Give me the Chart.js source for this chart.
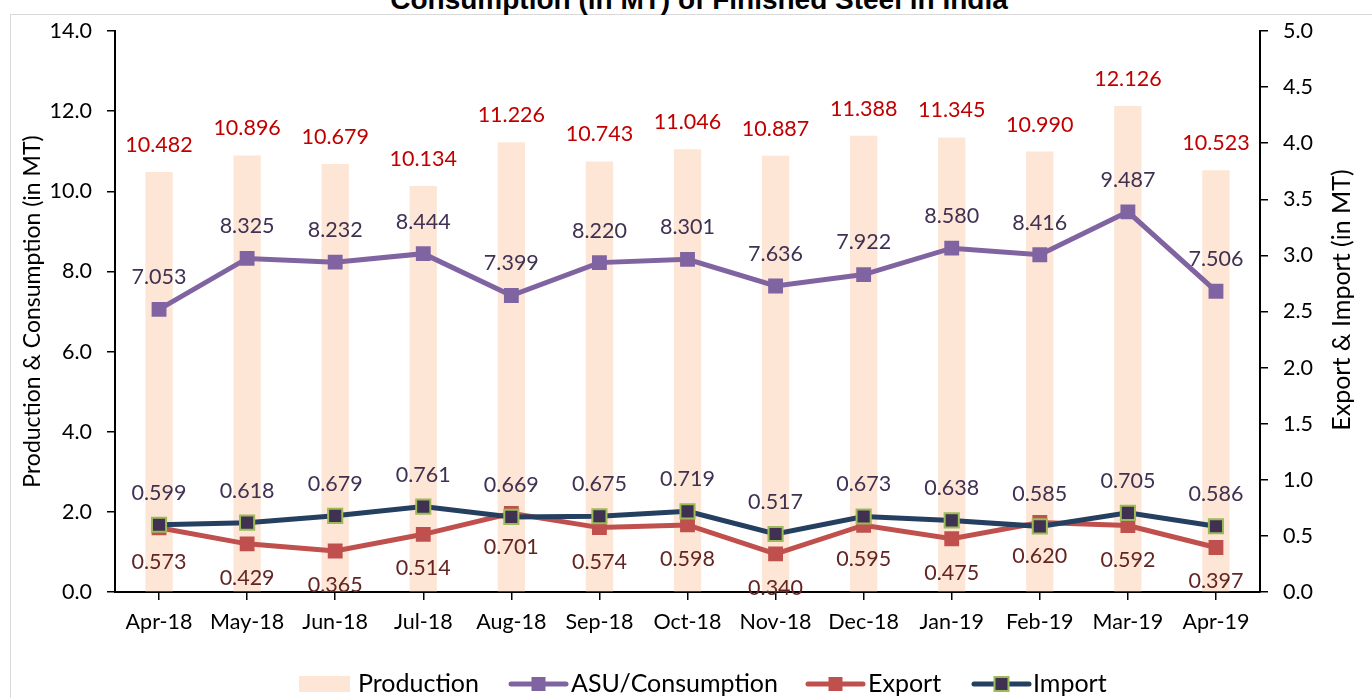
<!DOCTYPE html>
<html>
<head>
<meta charset="utf-8">
<script src="https://cdn.jsdelivr.net/npm/chart.js@4.4.1/dist/chart.umd.min.js"></script>
<style>
  html, body { margin: 0; padding: 0; background: #fff; overflow: hidden; }
  #wrap { position: relative; width: 1372px; height: 698px; overflow: hidden; }
  #frame { position: absolute; left: 10px; top: 14px; width: 1420px; height: 720px; border: 1px solid #d9d9d9; }
  #title { position: absolute; left: 13px; width: 1372px; top: -16px; line-height: 28px; text-align: center;
           font: bold 28px "Liberation Sans Narrow", "Arial Narrow", Arial, sans-serif; color: #000; white-space: nowrap; }
  canvas { position: absolute; left: 0; top: 0; }
</style>
</head>
<body>
<div id="wrap">
  <div id="frame"></div>
  <div id="title">Consumption (in MT) of Finished Steel in India</div>
  <canvas id="chart" width="1372" height="698"></canvas>
</div>
<script>
// Chart data
const months = ['Apr-18', 'May-18', 'Jun-18', 'Jul-18', 'Aug-18', 'Sep-18', 'Oct-18',
                'Nov-18', 'Dec-18', 'Jan-19', 'Feb-19', 'Mar-19', 'Apr-19'];
const production = [10.482, 10.896, 10.679, 10.134, 11.226, 10.743, 11.046, 10.887, 11.388, 11.345, 10.990, 12.126, 10.523];
const consumption = [7.053, 8.325, 8.232, 8.444, 7.399, 8.220, 8.301, 7.636, 7.922, 8.580, 8.416, 9.487, 7.506];
const exportVals = [0.573, 0.429, 0.365, 0.514, 0.701, 0.574, 0.598, 0.340, 0.595, 0.475, 0.620, 0.592, 0.397];
const importVals = [0.599, 0.618, 0.679, 0.761, 0.669, 0.675, 0.719, 0.517, 0.673, 0.638, 0.585, 0.705, 0.586];
const leftTicks = [0, 14, 2];    // min, max, step
const rightTicks = [0, 5, 0.5];

const FONT = 'Lato';
const C = {
  bar: '#fde6d6', barLabel: '#c00000',
  asu: '#8064a2', asuLabel: '#403152',
  exp: '#c0504d', expLabel: '#632523',
  imp: '#243f60', impMarker: '#403152', impBorder: '#9bbb59', impLabel: '#403152'
};

// value labels next to each mark
const valueLabels = {
  id: 'valueLabels',
  afterDatasetsDraw(chart) {
    const ctx = chart.ctx;
    chart.data.datasets.forEach((ds, i) => {
      const meta = chart.getDatasetMeta(i);
      ctx.save();
      ctx.font = '21.5px ' + FONT;
      ctx.fillStyle = ds.labelColor;
      ctx.textAlign = 'center';
      ctx.textBaseline = 'middle';
      meta.data.forEach((el, j) => {
        ctx.fillText(ds.data[j].toFixed(3), el.x, el.y + ds.labelShift);
      });
      ctx.restore();
    });
  }
};

// right axis title (reads bottom to top) and bottom legend
const extras = {
  id: 'extras',
  afterDraw(chart) {
    const ctx = chart.ctx;
    ctx.save();
    ctx.translate(1342, 300);
    ctx.rotate(-Math.PI / 2);
    ctx.font = '25px ' + FONT;
    ctx.fillStyle = '#000';
    ctx.textAlign = 'center';
    ctx.textBaseline = 'middle';
    ctx.fillText('Export & Import (in MT)', 0, 0);
    ctx.restore();

    const y = 684;
    ctx.save();
    ctx.font = '25px ' + FONT;
    ctx.textBaseline = 'middle';
    ctx.fillStyle = C.bar;
    ctx.fillRect(299, y - 8, 51, 16);
    ctx.fillStyle = '#000';
    ctx.fillText('Production', 358, y);

    const items = [
      { x0: 511, x1: 566, line: C.asu, fill: C.asu, border: C.asu, text: 'ASU/Consumption', tx: 571 },
      { x0: 808, x1: 863, line: C.exp, fill: C.exp, border: C.exp, text: 'Export', tx: 868 },
      { x0: 974, x1: 1029, line: C.imp, fill: C.impMarker, border: C.impBorder, text: 'Import', tx: 1033 }
    ];
    items.forEach(it => {
      ctx.strokeStyle = it.line;
      ctx.lineWidth = 5;
      ctx.lineCap = 'round';
      ctx.beginPath();
      ctx.moveTo(it.x0, y);
      ctx.lineTo(it.x1, y);
      ctx.stroke();
      const cx = (it.x0 + it.x1) / 2;
      ctx.fillStyle = it.fill;
      ctx.fillRect(cx - 7, y - 7, 14, 14);
      if (it.border !== it.fill) {
        ctx.strokeStyle = it.border;
        ctx.lineWidth = 2;
        ctx.strokeRect(cx - 7, y - 7, 14, 14);
      }
      ctx.fillStyle = '#000';
      ctx.fillText(it.text, it.tx, y);
    });
    ctx.restore();
  }
};

const tickFont = { family: FONT, size: 21.5 };
const axisGrid = { display: true, drawOnChartArea: false, drawTicks: true, tickLength: 8, color: '#000', lineWidth: 1.5 };
const axisBorder = { display: true, color: '#000', width: 2 };

new Chart(document.getElementById('chart'), {
  data: {
    labels: months,
    datasets: [
      {
        type: 'bar', label: 'Production', data: production, yAxisID: 'y',
        backgroundColor: C.bar, borderWidth: 0,
        barPercentage: 0.31, categoryPercentage: 1, order: 4,
        labelColor: C.barLabel, labelShift: -27
      },
      {
        type: 'line', label: 'ASU/Consumption', data: consumption, yAxisID: 'y',
        borderColor: C.asu, borderWidth: 5, pointStyle: 'rect', pointRadius: 10.5,
        pointBackgroundColor: C.asu, pointBorderColor: C.asu, pointBorderWidth: 0, order: 3,
        labelColor: C.asuLabel, labelShift: -32
      },
      {
        type: 'line', label: 'Export', data: exportVals, yAxisID: 'y1',
        borderColor: C.exp, borderWidth: 5, pointStyle: 'rect', pointRadius: 10.5,
        pointBackgroundColor: C.exp, pointBorderColor: C.exp, pointBorderWidth: 0, order: 2,
        labelColor: C.expLabel, labelShift: 34
      },
      {
        type: 'line', label: 'Import', data: importVals, yAxisID: 'y1',
        borderColor: C.imp, borderWidth: 5, pointStyle: 'rect', pointRadius: 10,
        pointBackgroundColor: C.impMarker, pointBorderColor: C.impBorder, pointBorderWidth: 2, order: 1,
        labelColor: C.impLabel, labelShift: -32
      }
    ]
  },
  options: {
    responsive: false,
    animation: false,
    devicePixelRatio: 1,
    layout: { padding: { top: 31, left: 0, right: 0, bottom: 0 } },
    plugins: {
      legend: { display: false },
      tooltip: { enabled: false },
      title: { display: false }
    },
    scales: {
      x: {
        offset: true,
        grid: Object.assign({}, axisGrid, { offset: false }),
        border: axisBorder,
        ticks: { color: '#000', font: tickFont, padding: 9, maxRotation: 0, autoSkip: false },
        afterFit: s => { s.height = 106; }
      },
      y: {
        position: 'left',
        min: leftTicks[0], max: leftTicks[1],
        grid: axisGrid,
        border: axisBorder,
        ticks: { stepSize: leftTicks[2], color: '#000', font: tickFont, padding: 15, callback: v => v.toFixed(1) },
        title: { display: true, text: 'Production & Consumption (in MT)', color: '#000',
                 font: { family: FONT, size: 23 }, padding: { top: 19, bottom: 0 } },
        afterFit: s => { s.width = 115; }
      },
      y1: {
        position: 'right',
        min: rightTicks[0], max: rightTicks[1],
        grid: axisGrid,
        border: axisBorder,
        ticks: { stepSize: rightTicks[2], color: '#000', font: tickFont, padding: 15, callback: v => v.toFixed(1) },
        afterFit: s => { s.width = 112; }
      }
    }
  },
  plugins: [valueLabels, extras]
});
</script>
</body>
</html>
